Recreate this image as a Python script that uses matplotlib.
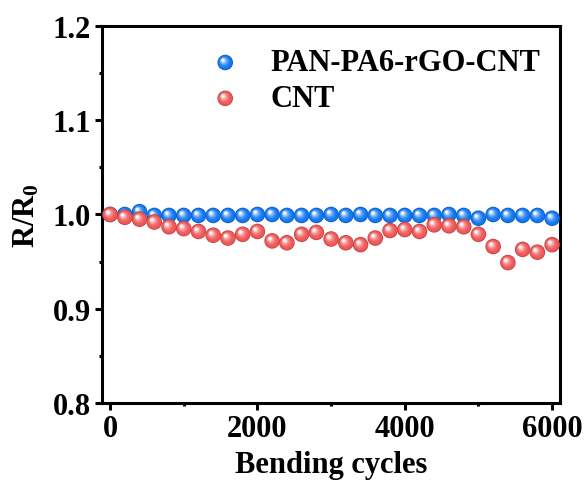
import numpy as np
import matplotlib
matplotlib.use("Agg")
import matplotlib.pyplot as plt
from matplotlib.transforms import offset_copy
from matplotlib.colors import to_rgb

plt.rcParams['font.family'] = ['Liberation Serif', 'DejaVu Serif']
plt.rcParams['font.weight'] = 'bold'
plt.rcParams['mathtext.fontset'] = 'custom'
plt.rcParams['mathtext.rm'] = 'Liberation Serif:bold'
plt.rcParams['mathtext.bf'] = 'Liberation Serif:bold'
plt.rcParams['mathtext.it'] = 'Liberation Serif:bold'

cycles = list(range(0, 6001, 200))
pan_values = [1.000, 1.000, 1.003, 0.999, 0.999, 0.999, 0.999, 0.999, 0.999, 0.999,
              1.000, 1.000, 0.999, 0.999, 0.999, 1.000, 0.999, 1.000, 0.999, 0.999,
              0.999, 0.999, 0.999, 1.000, 0.999, 0.996, 1.000, 0.999, 0.999, 0.999,
              0.996]
cnt_values = [1.000, 0.997, 0.995, 0.992, 0.987, 0.985, 0.982, 0.978, 0.975, 0.979,
              0.982, 0.972, 0.970, 0.979, 0.981, 0.974, 0.970, 0.968, 0.975, 0.983,
              0.984, 0.982, 0.989, 0.988, 0.987, 0.979, 0.966, 0.949, 0.963, 0.960,
              0.968]
series_names = ["PAN-PA6-rGO-CNT", "CNT"]
series_colors = ["#1076f0", "#f05555"]
xticks = [0, 2000, 4000, 6000]
yticks = [0.8, 0.9, 1.0, 1.1, 1.2]

FS = 22

fig = plt.figure(figsize=(5.86, 4.81), dpi=100)
ax = fig.add_axes([0.174, 0.160, 0.782, 0.784])


def glossy(ax, x, y, color, transform, diam=11.2, z=3, clip=True):
    base = np.array(to_rgb(color))
    dark = base * 0.8
    white = np.array([1.0, 1.0, 1.0])
    r = diam / 2.0
    ax.scatter(x, y, s=diam ** 2, color=dark, edgecolors='none', transform=transform,
               zorder=z, clip_on=clip)
    n = 9
    for i in range(n):
        t = i / (n - 1)
        d = diam * (0.9 - 0.72 * t)
        col = base + (white - base) * (t ** 2.0) * 0.97
        off = 0.3 * r * t
        tr = offset_copy(transform, fig=ax.figure, x=-off, y=off, units='points')
        ax.scatter(x, y, s=d ** 2, color=col, edgecolors='none', transform=tr,
                   zorder=z + 0.01 * (i + 1), clip_on=clip)


glossy(ax, cycles, pan_values, series_colors[0], ax.transData, z=3)
glossy(ax, cycles, cnt_values, series_colors[1], ax.transData, z=4)

# legend (manual)
leg_y = [0.903, 0.808]
for name, col, ly in zip(series_names, series_colors, leg_y):
    glossy(ax, [0.269], [ly], col, ax.transAxes, z=6, clip=False)
    ax.text(0.367, ly, name, transform=ax.transAxes, fontsize=FS, fontweight='bold',
            va='center', ha='left')

ax.set_xlim(-110, 6110)
ax.set_ylim(0.8, 1.2)
ax.set_xticks(xticks)
ax.set_xticks([1000, 3000, 5000], minor=True)
ax.set_yticks(yticks)
ax.set_yticks([0.85, 0.95, 1.05, 1.15], minor=True)
ax.set_xticklabels([str(v) for v in xticks])
ax.set_yticklabels([f"{v:.1f}" for v in yticks])

for sp in ax.spines.values():
    sp.set_linewidth(2.2)
ax.tick_params(axis='both', which='major', direction='out', length=5, width=2.2,
               labelsize=FS, pad=3)
ax.tick_params(axis='both', which='minor', direction='out', length=2.5, width=2.2)
for lab in ax.get_xticklabels() + ax.get_yticklabels():
    lab.set_fontweight('bold')

ax.set_xlabel("Bending cycles", fontsize=FS, fontweight='bold', labelpad=5)
ax.set_ylabel(r"R/R$_{\mathbf{0}}$", fontsize=FS, fontweight='bold', labelpad=8)

fig.savefig("out.png", dpi=100)
